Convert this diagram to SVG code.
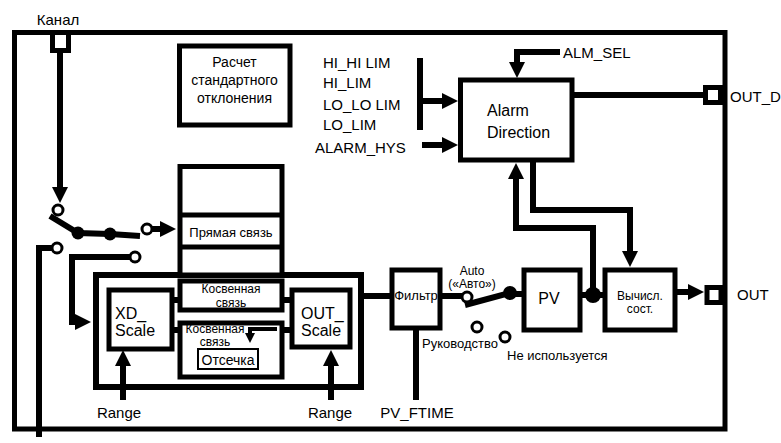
<svg xmlns="http://www.w3.org/2000/svg" width="781" height="443" viewBox="0 0 781 443">
<style>
text{font-family:"Liberation Sans","DejaVu Sans",sans-serif;fill:#000}
.box{fill:#fff;stroke:#000;stroke-width:5}
.frm{fill:none;stroke:#000;stroke-width:6}
.ln{fill:none;stroke:#000;stroke-width:6}
.thin{fill:none;stroke:#000;stroke-width:4}
.oc{fill:#fff;stroke:#000;stroke-width:3}
.dot{fill:#000}
.c{text-anchor:middle}
</style>
<defs>
<marker id="ah" viewBox="0 0 16 16" refX="4" refY="8" markerWidth="16" markerHeight="16" markerUnits="userSpaceOnUse" orient="auto"><path d="M0,0L16,8L0,16z"/></marker>
<marker id="as" viewBox="0 0 10 10" refX="3" refY="5" markerWidth="10" markerHeight="10" markerUnits="userSpaceOnUse" orient="auto"><path d="M0,0L10,5L0,10z"/></marker>
</defs>
<rect id="frame" x="14.5" y="32.5" width="710.5" height="396.5" fill="none" stroke="#000" stroke-width="5"/>
<g id="inner-frame"><rect x="96" y="275" width="265" height="112" class="frm"/></g>
<g id="connectors">
<path class="ln" d="M60,51V191" marker-end="url(#ah)"/>
<circle class="oc" cx="58" cy="210" r="5"/>
<path class="ln" d="M50,216L78,233L110,234L140,236"/>
<circle class="dot" cx="78" cy="233" r="6.5"/>
<circle class="dot" cx="110" cy="234" r="6.5"/>
<circle class="oc" cx="147" cy="229" r="5"/>
<path class="ln" d="M152,229H164" marker-end="url(#ah)"/>
<circle class="oc" cx="57" cy="248" r="5"/>
<path class="ln" d="M52,248H39V437"/>
<circle class="oc" cx="135" cy="257" r="5"/>
<path class="ln" d="M130,257H72V322H79" marker-end="url(#ah)"/>
<path class="ln" d="M123,400V362" marker-end="url(#ah)"/>
<path class="ln" d="M331,400V362" marker-end="url(#ah)"/>
<path class="ln" d="M172,300H180M172,330H180M282,300H292M282,330H292"/>
<path class="ln" d="M358,296H392"/>
<path class="ln" d="M416,400V330"/>
<path class="ln" d="M440,296H462"/>
<circle class="oc" cx="467" cy="297" r="5"/>
<path class="ln" d="M465,305L510,293"/>
<circle class="dot" cx="510" cy="293" r="7"/>
<path class="ln" d="M510,294H524"/>
<path class="ln" d="M580,295H605"/>
<circle class="dot" cx="593" cy="295" r="8"/>
<path class="ln" d="M593,295V228H516V175" marker-end="url(#ah)"/>
<path class="ln" d="M533,160V210H630V255" marker-end="url(#ah)"/>
<path class="ln" d="M675,292H692" marker-end="url(#ah)"/>
<path class="ln" d="M572,95H706"/>
<path class="ln" d="M560,52H517V66" marker-end="url(#ah)"/>
<path class="ln" d="M420,58V130"/>
<path class="ln" d="M420,101H446" marker-end="url(#ah)"/>
<path class="ln" d="M422,145H446" marker-end="url(#ah)"/>
</g>
<g id="port-kanal"><rect x="52.5" y="32.5" width="16" height="18" class="box"/><text x="58" y="25" font-size="15" class="c">Канал</text></g>
<g id="port-out-d"><rect x="705.5" y="87.5" width="15" height="15" class="box"/><text x="730" y="102" font-size="15">OUT_D</text></g>
<g id="port-out"><rect x="707" y="287.5" width="14" height="15" class="box"/><text x="737" y="300" font-size="15">OUT</text></g>
<g id="std-dev"><rect x="179.5" y="46" width="110.5" height="79" class="box"/>
<text x="234.5" y="67" font-size="14" class="c">Расчет</text>
<text x="234.5" y="85" font-size="14" class="c">стандартного</text>
<text x="234.5" y="103" font-size="14" class="c">отклонения</text></g>
<g id="limits" font-size="15">
<text x="323" y="68">HI_HI LIM</text>
<text x="323" y="88">HI_LIM</text>
<text x="323" y="110">LO_LO LIM</text>
<text x="323" y="130">LO_LIM</text>
<text x="315" y="153">ALARM_HYS</text>
<text x="563" y="58">ALM_SEL</text></g>
<g id="alarm-direction"><rect x="460.5" y="80" width="111.5" height="80" class="box"/>
<text x="487" y="116" font-size="16">Alarm</text>
<text x="487" y="138" font-size="16">Direction</text></g>
<g id="direct"><rect x="180" y="166.5" width="102" height="108.5" class="box" stroke-width="6"/>
<path d="M180,215H282M180,247H282" stroke="#000" stroke-width="5"/>
<text x="231" y="237" font-size="13" class="c">Прямая связь</text></g>
<g id="indirect1"><rect x="180" y="281" width="102" height="29" class="box"/>
<text x="231" y="292.5" font-size="12" class="c">Косвенная</text>
<text x="231" y="306.5" font-size="12" class="c">связь</text></g>
<g id="indirect2"><rect x="180" y="323" width="102" height="54" class="box"/>
<text x="215" y="333" font-size="12" class="c">Косвенная</text>
<text x="215" y="346" font-size="12" class="c">связь</text>
<path class="thin" d="M277,329H250V336" marker-end="url(#as)"/>
<rect x="198" y="349" width="60" height="20" fill="#fff" stroke="#000" stroke-width="2"/>
<text x="228" y="365" font-size="14" class="c">Отсечка</text></g>
<g id="xd-scale"><rect x="109" y="290" width="63" height="59" class="box" stroke-width="6"/>
<text x="115" y="319" font-size="16">XD_</text>
<text x="115" y="336" font-size="16">Scale</text></g>
<g id="out-scale"><rect x="292" y="290" width="58" height="57" class="box" stroke-width="6"/>
<text x="301" y="319" font-size="16">OUT_</text>
<text x="301" y="336" font-size="16">Scale</text></g>
<g id="filter"><rect x="392" y="270" width="48" height="58" class="box" stroke-width="6"/>
<text x="416" y="300" font-size="13" class="c">Фильтр</text></g>
<g id="pv"><rect x="524" y="270" width="56" height="60" class="box" stroke-width="6"/>
<text x="549" y="304" font-size="16" class="c">PV</text></g>
<g id="calc"><rect x="605" y="270" width="70" height="60" class="box" stroke-width="6"/>
<text x="640" y="300" font-size="12" class="c">Вычисл.</text>
<text x="640" y="313" font-size="12" class="c">сост.</text></g>
<g id="switch-labels" font-size="12">
<text x="472" y="275" class="c">Auto</text>
<text x="472" y="288" class="c">(«Авто»)</text>
<circle class="oc" cx="477" cy="327" r="5"/>
<circle class="oc" cx="505" cy="337" r="5"/>
<text x="422" y="348" font-size="13">Руководство</text>
<text x="507" y="360" font-size="13">Не используется</text></g>
<g id="bottom-labels" font-size="15">
<text x="119" y="418" class="c">Range</text>
<text x="330" y="418" class="c">Range</text>
<text x="417" y="418" class="c">PV_FTIME</text></g>
</svg>
